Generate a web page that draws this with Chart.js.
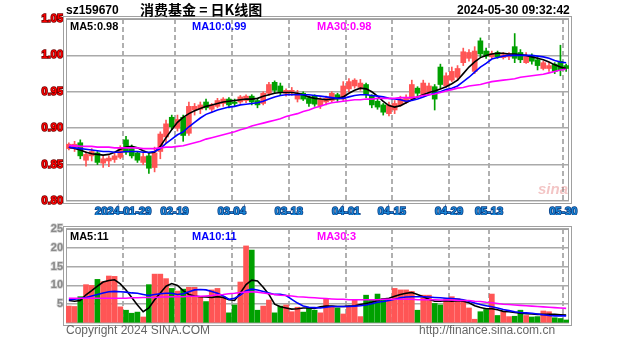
<!DOCTYPE html>
<html><head><meta charset="utf-8">
<script src="https://cdn.jsdelivr.net/npm/chart.js@4/dist/chart.umd.min.js"></script>
<style>
html,body{margin:0;padding:0;background:#fff;width:627px;height:342px;overflow:hidden;position:relative;font-family:"Liberation Sans",Arial,sans-serif;}
canvas{position:absolute;left:0;}
#c1{top:0;width:627px;height:215px;}
#c2{top:215px;width:627px;height:127px;}
.t{position:absolute;white-space:nowrap;font-weight:bold;line-height:1;}
</style></head><body>
<canvas id="c1" width="627" height="215"></canvas>
<canvas id="c2" width="627" height="127"></canvas>
<div class="t" style="left:66px;top:4px;font-size:12px;color:#000">sz159670</div>
<div class="t" style="left:140px;top:2px;font-size:14px;color:#000;font-family:'Noto Sans CJK SC',sans-serif">消费基金 = 日K线图</div>
<div class="t" style="left:457px;top:4px;font-size:12px;color:#000">2024-05-30 09:32:42</div>
<div class="t" style="left:70px;top:21px;font-size:11px;color:#000">MA5:0.98</div>
<div class="t" style="left:192px;top:21px;font-size:11px;color:#0000ff">MA10:0.99</div>
<div class="t" style="left:317px;top:21px;font-size:11px;color:#ff00ff">MA30:0.98</div>
<div class="t" style="left:538px;top:181px;font-size:15px;font-style:italic;color:rgba(220,90,90,0.35)">sina</div>
<div class="t" style="left:70px;top:231px;font-size:11px;color:#000">MA5:11</div>
<div class="t" style="left:192px;top:231px;font-size:11px;color:#0000ff">MA10:11</div>
<div class="t" style="left:317px;top:231px;font-size:11px;color:#ff00ff">MA30:3</div>
<div class="t" style="left:66px;top:324px;font-size:12px;font-weight:normal;color:#666">Copyright 2024 SINA.COM</div>
<div class="t" style="left:419px;top:324px;font-size:12px;font-weight:normal;color:#666">http://finance.sina.com.cn</div>
<script>
const dates = ['2024-01-15','2024-01-16','2024-01-17','2024-01-18','2024-01-19','2024-01-22','2024-01-23','2024-01-24','2024-01-25','2024-01-26',
'2024-01-29','2024-01-30','2024-01-31','2024-02-01','2024-02-02','2024-02-05','2024-02-06','2024-02-07','2024-02-08',
'2024-02-19','2024-02-20','2024-02-21','2024-02-22','2024-02-23','2024-02-26','2024-02-27','2024-02-28','2024-02-29','2024-03-01',
'2024-03-04','2024-03-05','2024-03-06','2024-03-07','2024-03-08','2024-03-11','2024-03-12','2024-03-13','2024-03-14','2024-03-15',
'2024-03-18','2024-03-19','2024-03-20','2024-03-21','2024-03-22','2024-03-25','2024-03-26','2024-03-27','2024-03-28','2024-03-29',
'2024-04-01','2024-04-02','2024-04-03','2024-04-08','2024-04-09','2024-04-10','2024-04-11','2024-04-12',
'2024-04-15','2024-04-16','2024-04-17','2024-04-18','2024-04-19','2024-04-22','2024-04-23','2024-04-24','2024-04-25','2024-04-26',
'2024-04-29','2024-04-30','2024-05-06','2024-05-07','2024-05-08','2024-05-09','2024-05-10',
'2024-05-13','2024-05-14','2024-05-15','2024-05-16','2024-05-17','2024-05-20','2024-05-21','2024-05-22','2024-05-23','2024-05-24',
'2024-05-27','2024-05-28','2024-05-29','2024-05-30'];

const open  = [0.872,0.874,0.880,0.856,0.862,0.866,0.852,0.855,0.857,0.860,0.884,0.872,0.866,0.853,0.862,0.846,0.868,0.888,0.915,0.900,0.915,0.893,0.925,0.926,0.936,0.926,0.930,0.934,0.940,0.936,0.936,0.938,0.944,0.938,0.934,0.948,0.963,0.958,0.948,0.950,0.940,0.948,0.942,0.944,0.931,0.936,0.938,0.946,0.940,0.954,0.958,0.956,0.960,0.944,0.937,0.932,0.920,0.925,0.932,0.936,0.940,0.955,0.946,0.950,0.957,0.984,0.958,0.966,0.970,0.990,0.996,0.978,1.020,1.006,0.998,1.004,0.997,0.998,1.012,1.004,0.990,1.000,0.994,0.982,0.982,0.988,0.992,0.986];
const high  = [0.880,0.882,0.884,0.868,0.872,0.868,0.862,0.862,0.866,0.876,0.889,0.877,0.868,0.866,0.865,0.874,0.895,0.911,0.918,0.918,0.918,0.936,0.934,0.936,0.940,0.934,0.941,0.942,0.942,0.940,0.945,0.946,0.946,0.940,0.950,0.963,0.965,0.962,0.954,0.956,0.952,0.950,0.944,0.946,0.942,0.944,0.950,0.948,0.964,0.968,0.968,0.967,0.962,0.946,0.940,0.934,0.936,0.938,0.944,0.946,0.966,0.957,0.966,0.962,0.960,0.988,0.976,0.984,0.986,1.010,1.008,1.012,1.024,1.010,1.006,1.006,1.004,1.004,1.030,1.008,1.004,1.002,0.997,0.992,0.990,0.990,1.014,0.988];
const low   = [0.870,0.868,0.858,0.848,0.855,0.850,0.846,0.847,0.853,0.858,0.864,0.859,0.853,0.850,0.838,0.840,0.858,0.880,0.898,0.896,0.882,0.890,0.918,0.920,0.925,0.922,0.928,0.930,0.928,0.930,0.934,0.935,0.932,0.928,0.932,0.945,0.948,0.946,0.944,0.945,0.936,0.938,0.930,0.930,0.927,0.932,0.936,0.936,0.938,0.950,0.955,0.952,0.942,0.928,0.926,0.918,0.917,0.920,0.930,0.934,0.938,0.944,0.944,0.946,0.925,0.955,0.956,0.964,0.966,0.986,0.992,0.975,0.998,0.996,0.996,0.996,0.995,0.994,0.990,0.990,0.989,0.988,0.980,0.980,0.978,0.975,0.972,0.978];
const close = [0.878,0.878,0.862,0.864,0.868,0.853,0.858,0.859,0.862,0.872,0.867,0.862,0.856,0.861,0.845,0.866,0.892,0.906,0.902,0.912,0.890,0.930,0.930,0.932,0.928,0.932,0.938,0.940,0.932,0.934,0.943,0.944,0.936,0.932,0.948,0.960,0.952,0.950,0.952,0.952,0.948,0.940,0.934,0.933,0.939,0.941,0.948,0.940,0.958,0.964,0.966,0.962,0.946,0.932,0.929,0.922,0.932,0.934,0.940,0.942,0.960,0.948,0.962,0.958,0.940,0.960,0.972,0.978,0.982,1.005,1.004,1.006,1.002,0.999,1.003,0.998,1.001,1.002,0.996,0.994,1.000,0.992,0.986,0.990,0.986,0.978,0.980,0.982];

const ma5  = [0.874,0.872,0.870,0.867,0.865,0.864,0.863,0.864,0.867,0.871,0.874,0.875,0.873,0.869,0.866,0.867,0.875,0.887,0.898,0.908,0.915,0.920,0.924,0.927,0.930,0.932,0.934,0.936,0.937,0.938,0.939,0.940,0.940,0.941,0.944,0.946,0.948,0.949,0.949,0.949,0.948,0.946,0.943,0.941,0.940,0.939,0.940,0.941,0.943,0.948,0.952,0.955,0.954,0.950,0.944,0.937,0.931,0.929,0.931,0.935,0.939,0.943,0.946,0.949,0.951,0.954,0.957,0.961,0.966,0.975,0.984,0.991,0.997,1.000,1.002,1.003,1.003,1.002,1.002,1.001,1.000,0.998,0.996,0.994,0.991,0.987,0.984,0.982];
const ma10 = [0.874,0.873,0.872,0.871,0.870,0.869,0.868,0.868,0.867,0.867,0.868,0.868,0.868,0.867,0.867,0.868,0.872,0.879,0.885,0.891,0.895,0.902,0.908,0.914,0.919,0.922,0.925,0.927,0.929,0.930,0.932,0.933,0.934,0.935,0.937,0.940,0.943,0.945,0.946,0.946,0.946,0.946,0.946,0.945,0.944,0.943,0.942,0.941,0.941,0.943,0.945,0.946,0.946,0.945,0.944,0.943,0.941,0.940,0.939,0.937,0.938,0.940,0.943,0.946,0.948,0.950,0.953,0.955,0.958,0.964,0.970,0.977,0.984,0.989,0.995,0.997,0.999,1.000,1.000,1.000,1.000,1.000,0.999,0.998,0.996,0.993,0.991,0.990];
const ma30 = [0.876,0.876,0.875,0.875,0.875,0.874,0.874,0.874,0.873,0.873,0.873,0.873,0.873,0.872,0.872,0.872,0.873,0.874,0.874,0.875,0.876,0.878,0.880,0.882,0.885,0.887,0.889,0.891,0.893,0.895,0.898,0.900,0.903,0.905,0.907,0.909,0.911,0.913,0.916,0.918,0.920,0.923,0.925,0.928,0.930,0.933,0.935,0.936,0.937,0.938,0.939,0.939,0.940,0.940,0.941,0.941,0.941,0.941,0.942,0.942,0.942,0.943,0.945,0.946,0.947,0.949,0.951,0.953,0.955,0.956,0.958,0.959,0.960,0.962,0.964,0.965,0.966,0.967,0.968,0.970,0.971,0.972,0.973,0.974,0.976,0.978,0.980,0.981];

const volume = [4.5,4.4,7.0,10.2,10.0,11.6,11.0,12.5,12.4,4.3,3.4,2.6,2.9,1.6,10.2,13.0,13.0,11.8,9.2,8.5,9.0,9.5,9.5,7.0,5.7,8.8,9.2,7.0,2.7,4.8,10.9,20.5,19.4,3.4,4.5,6.1,2.7,4.5,4.8,3.0,4.2,2.9,4.0,3.4,2.7,6.3,4.5,4.0,2.4,4.5,6.1,1.7,7.4,6.1,7.7,6.5,6.1,9.2,8.8,8.8,8.4,3.4,7.4,7.4,5.2,4.8,6.5,7.0,6.5,6.0,4.0,1.0,3.0,3.6,7.7,2.0,3.0,1.7,1.8,3.4,2.0,1.6,1.7,3.2,3.0,1.4,1.2,0.8];
const volMa5  = [6.0,5.8,6.0,7.5,8.6,9.8,10.9,11.3,11.5,10.4,8.8,6.8,4.8,3.0,4.0,6.2,8.0,9.8,10.5,10.0,8.6,7.6,7.2,7.0,6.9,6.8,7.0,6.8,6.2,6.0,8.0,10.2,11.4,11.2,9.5,7.6,5.0,4.3,4.0,3.7,3.8,4.0,4.0,3.9,4.3,4.5,4.5,4.4,4.4,4.5,4.6,4.9,5.2,5.5,6.0,6.4,6.6,7.1,7.6,7.9,8.1,7.6,7.0,6.3,5.8,5.8,5.9,5.8,5.9,5.8,5.4,4.6,4.1,3.8,3.8,3.5,3.1,3.0,2.8,2.6,2.5,2.4,2.3,2.3,2.3,2.3,2.2,2.1];
const volMa10 = [6.2,6.3,6.5,6.8,7.2,7.6,8.0,8.3,8.4,8.3,8.2,8.0,7.9,7.6,7.3,7.6,7.8,7.9,7.9,7.6,7.8,8.3,8.8,8.9,8.8,8.4,7.9,7.2,6.3,6.6,7.4,8.6,9.0,8.8,8.4,8.0,7.6,7.6,7.3,6.3,5.3,4.5,4.2,4.1,4.0,4.2,4.4,4.4,4.4,4.4,4.5,4.6,4.8,5.1,5.5,5.7,6.0,6.3,6.7,6.9,7.0,7.0,7.0,6.9,6.8,6.7,6.6,6.5,6.4,6.2,5.8,5.3,4.9,4.6,4.3,4.0,3.6,3.3,3.0,2.8,2.7,2.6,2.4,2.2,2.0,1.9,1.9,1.9];
const volMa30 = [6.6,6.6,6.6,6.6,6.6,6.6,6.6,6.6,6.6,6.6,6.6,6.7,6.7,6.8,6.8,6.8,6.9,6.9,7.0,7.0,7.0,7.1,7.1,7.1,7.2,7.3,7.5,7.6,7.8,7.9,8.1,8.2,8.3,8.2,8.0,7.8,7.6,7.4,7.3,7.2,7.0,6.9,6.8,6.7,6.6,6.5,6.4,6.3,6.3,6.2,6.2,6.2,6.2,6.2,6.2,6.3,6.3,6.3,6.3,6.3,6.3,6.2,6.2,6.2,6.2,6.1,6.1,6.1,6.0,6.0,6.0,5.8,5.7,5.5,5.4,5.2,5.0,4.9,4.8,4.7,4.6,4.5,4.4,4.3,4.2,4.1,4.0,3.9];

const tickDates  = ['2024-01-29','2024-02-19','2024-03-04','2024-03-18','2024-04-01','2024-04-15','2024-04-29','2024-05-13','2024-05-30'];
const tickLabels = ['2024-01-29','02-19','03-04','03-18','04-01','04-15','04-29','05-13','05-30'];
const priceTicks = [0.80,0.85,0.90,0.95,1.00,1.05];
const volumeTicks = [5,10,15,20,25];

const UP = '#ff5555', DOWN = '#00a000';
const N = dates.length;
const idx = dates.map((d,i)=>i);
const colors = idx.map(i => close[i] >= open[i] ? UP : DOWN);
const tickPos = tickDates.map(d => dates.indexOf(d) - 0.5);
const tickMap = {}; tickPos.forEach((p,k)=>tickMap[p.toFixed(1)] = tickLabels[k]);
const FONT = {family:'Liberation Sans, Arial, sans-serif', size:11, weight:'bold'};

const frame = {id:'frame', beforeDatasetsDraw(ch){const a=ch.chartArea,c=ch.ctx;c.save();c.strokeStyle='#a0a0a0';c.lineWidth=1;
  c.strokeRect(a.left+0.5,a.top+0.5,a.right-a.left-1,a.bottom-a.top-1);
  c.strokeRect(a.left-2.5,a.top-2.5,a.right-a.left+5,a.bottom-a.top+5);c.restore();}};

function xScale(showLabels, h){
  return {type:'linear', min:-0.5, max:N-0.5, offset:false,
    afterBuildTicks:s=>{s.ticks = tickPos.map(v=>({value:v}));},
    afterFit:s=>{s.height=h;},
    grid:{display:true, offset:false, color:'#b0b0b0', lineWidth:2, drawTicks:false},
    border:{display:false, dash:[5,3]},
    ticks:{display:showLabels, autoSkip:false, maxRotation:0, padding:4, font:FONT, color:'#1a86d6',
      textStrokeColor:'#0a3a80', textStrokeWidth:1.5,
      callback:v=>tickMap[Number(v).toFixed(1)] || ''}};
}
function lineDs(data,color){return {type:'line', data:data.map((v,i)=>({x:i,y:v})), borderColor:color, borderWidth:1.6, pointRadius:0, tension:0, order:0};}

new Chart(document.getElementById('c1'), {
  type:'bar',
  data:{datasets:[
    {data:idx.map(i=>({x:i,y:[low[i],high[i]]})), backgroundColor:colors, barThickness:1, grouped:false, order:2},
    {data:idx.map(i=>({x:i,y:[Math.min(open[i],close[i]),Math.max(open[i],close[i])]})), backgroundColor:colors, barThickness:5, minBarLength:1, grouped:false, order:1},
    lineDs(ma30,'#ff00ff'), lineDs(ma10,'#0000ff'), lineDs(ma5,'#000000')
  ]},
  options:{responsive:false, animation:false, devicePixelRatio:1,
    layout:{padding:{left:0,right:58,top:19,bottom:0}},
    plugins:{legend:{display:false}, tooltip:{enabled:false}},
    scales:{
      x:xScale(true,14),
      y:{min:0.80, max:1.05, afterFit:s=>{s.width=66;},
        afterBuildTicks:s=>{s.ticks = priceTicks.map(v=>({value:v}));},
        grid:{color:'#aaaaaa', lineWidth:1.5, drawTicks:false}, border:{display:false},
        ticks:{padding:3, font:FONT, color:'#ff0000', textStrokeColor:'#700000', textStrokeWidth:1.5, callback:v=>Number(v).toFixed(2)}}
    }},
  plugins:[frame]
});

new Chart(document.getElementById('c2'), {
  type:'bar',
  data:{datasets:[
    {data:idx.map(i=>({x:i,y:volume[i]})), backgroundColor:colors, barThickness:5, grouped:false, order:1},
    lineDs(volMa30,'#ff00ff'), lineDs(volMa10,'#0000ff'), lineDs(volMa5,'#000000')
  ]},
  options:{responsive:false, animation:false, devicePixelRatio:1,
    layout:{padding:{left:0,right:58,top:14,bottom:0}},
    plugins:{legend:{display:false}, tooltip:{enabled:false}},
    scales:{
      x:xScale(false,19),
      y:{min:0, max:25, afterFit:s=>{s.width=66;},
        afterBuildTicks:s=>{s.ticks = [0].concat(volumeTicks).map(v=>({value:v}));},
        grid:{color:'#aaaaaa', lineWidth:1.5, drawTicks:false}, border:{display:false},
        ticks:{padding:3, font:FONT, color:'#8a8a8a', textStrokeColor:'#d0d0d0', textStrokeWidth:1.5, callback:v=>v===0?'':String(v)}}
    }},
  plugins:[frame]
});
</script>
</body></html>
